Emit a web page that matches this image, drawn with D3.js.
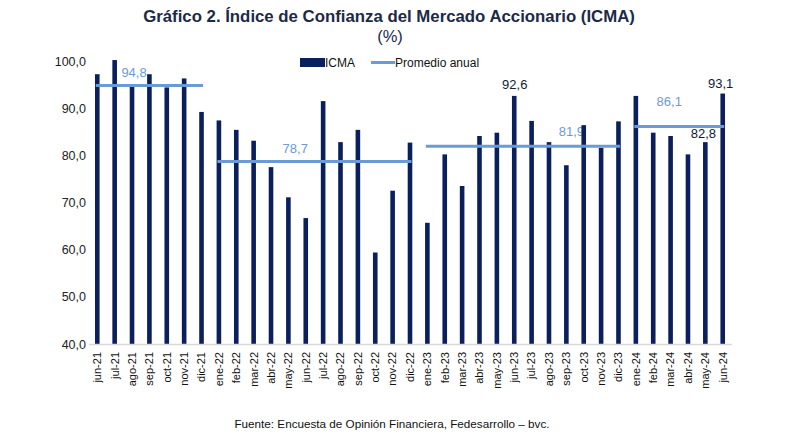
<!DOCTYPE html>
<html><head><meta charset="utf-8">
<script src="https://cdn.jsdelivr.net/npm/d3@7"></script>
<style>body{margin:0;background:#fff}svg{display:block;font-family:"Liberation Sans",Arial,sans-serif}</style>
</head><body>
<svg id="c" width="803" height="446"></svg>
<script>
const months = ["jun-21","jul-21","ago-21","sep-21","oct-21","nov-21","dic-21",
"ene-22","feb-22","mar-22","abr-22","may-22","jun-22","jul-22","ago-22","sep-22","oct-22","nov-22","dic-22",
"ene-23","feb-23","mar-23","abr-23","may-23","jun-23","jul-23","ago-23","sep-23","oct-23","nov-23","dic-23",
"ene-24","feb-24","mar-24","abr-24","may-24","jun-24"];
const icma = [97.2,100.2,94.6,97.2,94.4,96.3,89.2,
87.4,85.4,83.1,77.5,71.1,66.7,91.5,82.8,85.4,59.4,72.5,82.7,
65.7,80.2,73.5,84.1,84.8,92.6,87.3,82.8,77.9,86.4,81.6,87.2,
92.6,84.8,84.1,80.2,82.8,93.1];
const avgYears = ["2021","2022","2023","2024"];
const avgStart = ["jun-21","ene-22","ene-23","ene-24"];
const avgEnd = ["dic-21","dic-22","dic-23","jun-24"];
const avgValues = [94.8,78.7,81.9,86.1];
const yTicks = [40,50,60,70,80,90,100];
const pointLabels = [{m:"jun-23",v:92.6},{m:"may-24",v:82.8},{m:"jun-24",v:93.1}];

const svg = d3.select("#c");
const navy = "#0b1f5c", blue = "#6a9bd6";
const x = d3.scaleBand().domain(months).range([88.6, 731.4]);
const y = d3.scaleLinear().domain([40,100]).range([344,61]);
const fmt = v => d3.format(".1f")(v).replace(".", ",");
const cx = m => x(m) + x.bandwidth()/2;

// title
svg.append("text").attr("x",389).attr("y",22).attr("text-anchor","middle")
  .attr("font-size",16.8).attr("font-weight","bold").attr("fill","#1c2a48")
  .text("Gráfico 2. Índice de Confianza del Mercado Accionario (ICMA)");
svg.append("text").attr("x",390).attr("y",42).attr("text-anchor","middle")
  .attr("font-size",16.5).attr("fill","#1c2a48").text("(%)");

// legend
svg.append("rect").attr("x",300).attr("y",58).attr("width",25).attr("height",9).attr("fill",navy);
svg.append("text").attr("x",325).attr("y",67).attr("font-size",12).attr("fill","#111").text("ICMA");
svg.append("line").attr("x1",371).attr("x2",395).attr("y1",62.5).attr("y2",62.5).attr("stroke",blue).attr("stroke-width",3);
svg.append("text").attr("x",395).attr("y",67).attr("font-size",12).attr("fill","#111").text("Promedio anual");

// y axis
const ya = svg.append("g").attr("transform","translate(88,0)")
  .call(d3.axisLeft(y).tickValues(yTicks).tickSize(0).tickPadding(2).tickFormat(fmt));
ya.select(".domain").remove();
ya.selectAll("text").attr("font-size",12.5).attr("fill","#222").attr("font-family","Liberation Sans, Arial");

// average labels (behind bars)
const avgLabelMonth = ["ago-21","jun-22","sep-23","feb-24"];
const avgLabelOff = [[2,-9],[-10.5,-8],[5,-10],[16,-21]];
avgValues.forEach((v,i)=>{
  svg.append("text").attr("x",cx(avgLabelMonth[i])+avgLabelOff[i][0])
    .attr("y",y(v)+avgLabelOff[i][1]).attr("text-anchor","middle")
    .attr("font-size",13).attr("fill",blue).text(fmt(v));
});

// bars
const bw = 4.6;
svg.append("g").selectAll("rect").data(months).join("rect")
  .attr("x",(d)=>cx(d)-bw/2).attr("width",bw)
  .attr("y",(d,i)=>y(icma[i])).attr("height",(d,i)=>y(40)-y(icma[i]))
  .attr("fill",navy);

// x axis
const xa = svg.append("g").attr("transform","translate(0,344)")
  .call(d3.axisBottom(x).tickSize(0).tickPadding(0));
xa.select(".domain").attr("stroke","#d9d9d9").attr("stroke-width",1.5);
xa.selectAll("text").attr("font-size",11).attr("fill","#111").attr("font-family","Liberation Sans, Arial")
  .attr("text-anchor","end").attr("transform","rotate(-90)")
  .attr("x",-8).attr("y",0).attr("dy","0.35em");

// average lines
avgValues.forEach((v,i)=>{
  svg.append("line")
    .attr("x1",cx(avgStart[i])-1.5).attr("x2",cx(avgEnd[i])+1.5)
    .attr("y1",y(v)).attr("y2",y(v)).attr("stroke",blue).attr("stroke-width",3);
});

// point labels
const plOff = {"jun-23":[0.5,-7],"may-24":[-2,-4],"jun-24":[-2,-6]};
pointLabels.forEach(p=>{
  svg.append("text").attr("x",cx(p.m)+plOff[p.m][0]).attr("y",y(p.v)+plOff[p.m][1])
    .attr("text-anchor","middle").attr("font-size",13).attr("fill","#111a33").text(fmt(p.v));
});

// footer
svg.append("text").attr("x",392).attr("y",428).attr("text-anchor","middle")
  .attr("font-size",11.7).attr("fill","#111").text("Fuente: Encuesta de Opinión Financiera, Fedesarrollo – bvc.");
</script>
</body></html>
